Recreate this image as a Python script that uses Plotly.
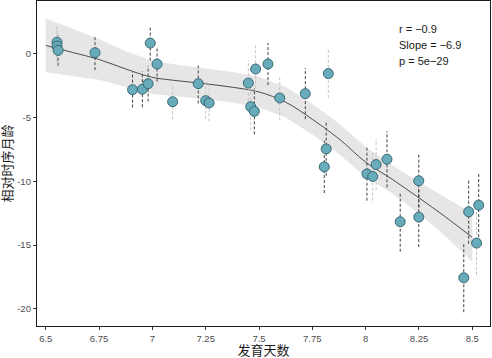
import plotly.graph_objects as go

# ---- data ----
dev_days = [6.553, 6.553, 6.558, 6.731, 6.907, 6.953, 6.980, 6.990, 7.022, 7.095,
            7.215, 7.250, 7.266, 7.450, 7.461, 7.478, 7.484, 7.542, 7.597, 7.717,
            7.825, 7.815, 7.806, 8.006, 8.033, 8.049, 8.100, 8.249, 8.249, 8.162,
            8.483, 8.530, 8.520, 8.460]
rel_age = [0.90, 0.60, 0.26, 0.08, -2.82, -2.79, -2.35, 0.83, -0.81, -3.76,
           -2.35, -3.68, -3.86, -2.30, -4.15, -4.52, -1.20, -0.81, -3.47, -3.13,
           -1.56, -7.46, -8.87, -9.42, -9.62, -8.69, -8.27, -9.96, -12.81, -13.17,
           -12.39, -11.87, -14.84, -17.56]
err = [1.35, 1.30, 1.20, 1.37, 1.40, 1.40, 1.40, 1.37, 1.37, 1.40,
       1.55, 1.45, 1.45, 1.80, 1.85, 1.80, 1.90, 1.65, 1.75, 2.00,
       1.90, 2.10, 2.05, 2.10, 1.90, 2.00, 2.20, 2.10, 2.35, 2.35,
       2.50, 2.50, 2.50, 2.70]
err_dark = [0, 0, 1, 1, 1, 1, 1, 1, 1, 0,
            1, 0, 0, 0, 0, 1, 0, 1, 0, 1,
            0, 1, 1, 1, 0, 0, 1, 1, 1, 1,
            1, 1, 0, 1]

fit_x = [6.5, 6.625, 6.75, 6.875, 7.0, 7.125, 7.25, 7.375, 7.5, 7.625,
         7.75, 7.875, 8.0, 8.125, 8.25, 8.375, 8.5]
fit_y = [0.65, 0.10, -0.45, -1.20, -1.85, -2.13, -2.36, -2.63, -3.00, -3.80,
         -5.14, -6.67, -8.50, -9.85, -11.30, -12.80, -14.40]
fit_hi = [2.75, 1.95, 1.15, 0.20, -0.55, -0.88, -1.16, -1.43, -1.80, -2.60,
          -3.94, -5.47, -7.32, -8.75, -10.05, -11.30, -12.50]
fit_lo = [-1.45, -1.75, -2.05, -2.60, -3.15, -3.38, -3.56, -3.83, -4.20, -5.00,
          -6.34, -7.87, -9.68, -10.95, -12.55, -14.30, -16.30]

x_ticks = [6.5, 6.75, 7, 7.25, 7.5, 7.75, 8, 8.25, 8.5]
x_tick_text = ["6.5", "6.75", "7", "7.25", "7.5", "7.75", "8", "8.25", "8.5"]
y_ticks = [0, -5, -10, -15, -20]
y_tick_text = ["0", "-5", "-10", "-15", "-20"]
stats_text = ["r = \u22120.9", "Slope = \u22126.9", "p = 5e\u221229"]

FONT = "Liberation Sans, Arial, Noto Sans CJK SC, sans-serif"

fig = go.Figure()

# confidence band
fig.add_trace(go.Scatter(x=fit_x + fit_x[::-1], y=fit_hi + fit_lo[::-1],
                         fill="toself", fillcolor="rgba(220,220,220,0.72)",
                         line=dict(width=0), hoverinfo="skip", showlegend=False))
# smooth line
fig.add_trace(go.Scatter(x=fit_x, y=fit_y, mode="lines", line=dict(color="#3a3a3a", width=0.9),
                         line_shape="spline", showlegend=False))

# dashed error bars (two shades)
for flag, col in [(0, "#c4c4c4"), (1, "#404040")]:
    ex, ey = [], []
    for xi, yi, ei, d in zip(dev_days, rel_age, err, err_dark):
        if d == flag:
            ex += [xi, xi, None]
            ey += [yi - ei, yi + ei, None]
    fig.add_trace(go.Scatter(x=ex, y=ey, mode="lines",
                             line=dict(color=col, width=1, dash="3px,2px"),
                             showlegend=False))

# points
fig.add_trace(go.Scatter(x=dev_days, y=rel_age, mode="markers",
                         marker=dict(size=10, color="#68abba",
                                     line=dict(color="#2f5f6a", width=0.9)),
                         showlegend=False))

for i, t in enumerate(stats_text):
    fig.add_annotation(x=0.795, y=0.913 - i * 0.049, xref="paper", yref="paper",
                       text=t, showarrow=False, xanchor="left", yanchor="middle",
                       font=dict(family=FONT, size=11, color="#1a1a1a"))

fig.update_layout(
    width=492, height=358,
    margin=dict(l=37, r=2, t=1, b=32),
    paper_bgcolor="white", plot_bgcolor="white",
    font=dict(family=FONT, size=10, color="#4d4d4d"),
    xaxis=dict(range=[6.459, 8.583], tickvals=x_ticks, ticktext=x_tick_text,
               automargin=False,
               showgrid=False, zeroline=False, showline=True, linecolor="#1a1a1a",
               linewidth=1.3, mirror=True, ticks="outside", ticklen=3, tickcolor="#333",
               tickfont=dict(size=9.5, color="#4d4d4d"),
               title=dict(text="发育天数", font=dict(size=13, color="#1a1a1a"), standoff=2)),
    yaxis=dict(range=[-21.34, 4.13], tickvals=y_ticks, ticktext=y_tick_text,
               automargin=False,
               showgrid=False, zeroline=False, showline=True, linecolor="#1a1a1a",
               linewidth=1.3, mirror=True, ticks="outside", ticklen=3, tickcolor="#333",
               tickfont=dict(size=9.5, color="#4d4d4d"),
               title=dict(text="相对时序月龄", font=dict(size=13, color="#1a1a1a"), standoff=2)),
)

fig.write_html("out.html", config={"displayModeBar": False},
               post_script="document.body.style.margin='0';document.body.style.overflow='hidden';")
